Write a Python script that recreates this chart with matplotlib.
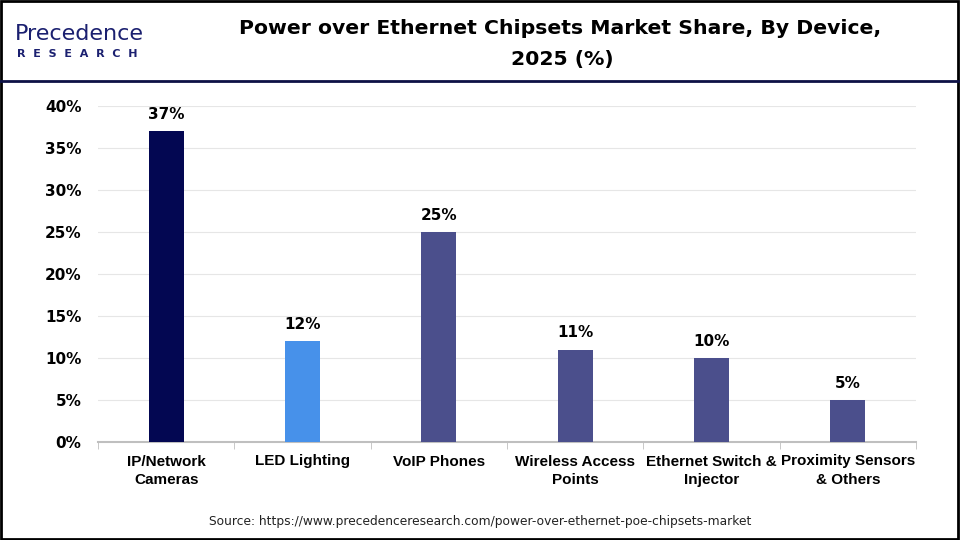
import matplotlib
matplotlib.use("Agg")
import matplotlib.pyplot as plt
from matplotlib.patches import Rectangle
from matplotlib.lines import Line2D

plt.rcParams['font.family'] = ['Liberation Sans', 'DejaVu Sans']

categories = ["IP/Network\nCameras", "LED Lighting", "VoIP Phones",
              "Wireless Access\nPoints", "Ethernet Switch &\nInjector",
              "Proximity Sensors\n& Others"]
shares = [37, 12, 25, 11, 10, 5]
bar_colors = ["#030752", "#4791ea", "#4b4f8c", "#4b4f8c", "#4b4f8c", "#4b4f8c"]
y_ticks = [0, 5, 10, 15, 20, 25, 30, 35, 40]

fig = plt.figure(figsize=(9.6, 5.4), dpi=100)

# frame and header separator
fig.add_artist(Rectangle((0.001, 0.002), 0.997, 0.996, transform=fig.transFigure,
                         fill=False, edgecolor="black", linewidth=2))
fig.add_artist(Line2D([0, 1], [1 - 81 / 540, 1 - 81 / 540], transform=fig.transFigure,
                      color="#0d1145", linewidth=2))

# logo
fig.text(15 / 960, 1 - 34 / 540, "Precedence", fontsize=16, color="#1b2070",
         family="DejaVu Sans", va="center", ha="left")
fig.text(17 / 960, 1 - 54 / 540, "R  E  S  E  A  R  C  H", fontsize=8, color="#1b2070",
         fontweight="bold", family="DejaVu Sans", va="center", ha="left")

# title
title_font = dict(fontsize=14.7, fontweight="bold", family="DejaVu Sans",
                  ha="center", va="center")
fig.text(560 / 960, 1 - 28 / 540, "Power over Ethernet Chipsets Market Share, By Device,",
         **title_font)
fig.text(562 / 960, 1 - 60 / 540, "2025 (%)", **title_font)

ax = fig.add_axes([98 / 960, 1 - 442 / 540, (916 - 98) / 960, (442 - 106) / 540])
x = range(len(categories))
bars = ax.bar(x, shares, width=0.256, color=bar_colors, zorder=3)
for b, v in zip(bars, shares):
    ax.text(b.get_x() + b.get_width() / 2, v + 1.1, f"{v}%", ha="center", va="bottom",
            fontsize=11, fontweight="bold", family="DejaVu Sans")

ax.set_xlim(-0.5, len(categories) - 0.5)
ax.set_ylim(0, 40)
ax.set_yticks(y_ticks)
ax.set_yticklabels([f"{t}%" for t in y_ticks], fontsize=11, fontweight="bold",
                   family="DejaVu Sans")
ax.set_xticks(list(x))
ax.set_xticklabels(categories, fontsize=11, fontweight="bold", linespacing=1.4)
ax.set_xticks([i - 0.5 for i in range(len(categories) + 1)], minor=True)
ax.tick_params(axis="x", which="major", length=0, pad=9)
ax.tick_params(axis="x", which="minor", length=5, color="#bfbfbf")
ax.tick_params(axis="y", length=0, pad=12)
ax.grid(axis="y", color="#e6e6e6", linewidth=0.8, zorder=0)
for s in ["top", "right", "left"]:
    ax.spines[s].set_visible(False)
ax.spines["bottom"].set_color("#bfbfbf")
ax.spines["bottom"].set_linewidth(1.5)

fig.text(480 / 960, 1 - 521 / 540,
         "Source: https://www.precedenceresearch.com/power-over-ethernet-poe-chipsets-market",
         fontsize=8.8, family="DejaVu Sans", ha="center", va="center", color="#222222")

fig.savefig("out.png", dpi=100)
